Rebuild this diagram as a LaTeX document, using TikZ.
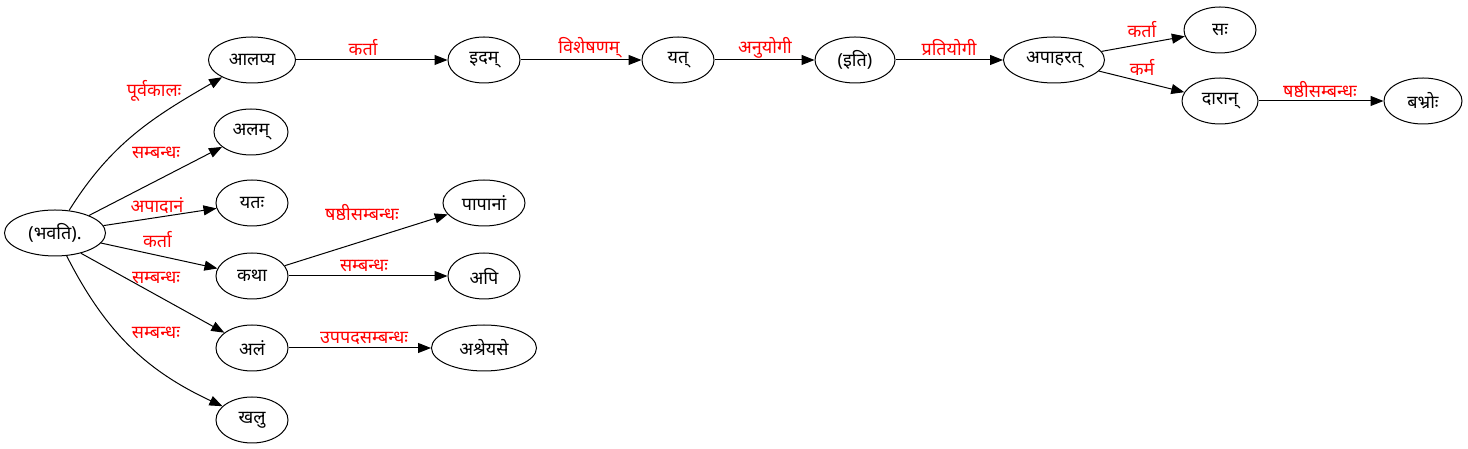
\documentclass[tikz,border=0pt]{standalone}
\usepackage{fontspec}
\setmainfont[Script=Devanagari]{Noto Sans}
\usetikzlibrary{arrows.meta,shapes.geometric}

\begin{document}
\begin{tikzpicture}[x=1pt, y=1pt,
		word/.style={draw, ellipse, line width=1pt, minimum width=72pt, minimum height=46pt, inner sep=1pt, font=\fontsize{18}{20}\selectfont},
		rel/.style={text=red, anchor=center, inner sep=0pt, font=\fontsize{18}{20}\selectfont},
		dep/.style={-{Triangle[length=13pt,width=10pt]}, line width=1pt}]
				\useasboundingbox (0, 0) rectangle (1468, 449);
				\node[word, minimum width=101pt] (node0) at (55, 216) {(भवति).};
				\node[word, minimum width=87pt] (node1) at (252, 389) {आलप्य};
				\node[word, minimum width=74pt] (node2) at (251, 317) {अलम्};
				\node[word] (node3) at (252, 246) {यतः};
				\node[word] (node4) at (252, 173) {कथा};
				\node[word] (node5) at (252, 101) {अलं};
				\node[word] (node6) at (252, 29) {खलु};
				\node[word, minimum width=82pt] (node7) at (484, 246) {पापानां};
				\node[word] (node8) at (484, 173) {अपि};
				\node[word, minimum width=105pt] (node9) at (484, 101) {अश्रेयसे};
				\node[word] (node10) at (484, 389) {इदम्};
				\node[word] (node11) at (678, 389) {यत्};
				\node[word, minimum width=80pt] (node12) at (855, 389) {(इति)};
				\node[word, minimum width=101pt] (node13) at (1054, 389) {अपाहरत्};
				\node[word] (node14) at (1220, 419) {सः};
				\node[word, minimum width=76pt] (node15) at (1220, 348) {दारान्};
				\node[word, minimum width=78pt] (node16) at (1423, 348) {बभ्रोः};

				\draw [dep] (node0) to[out=58, in=-150] node[rel, pos=0.75, xshift=-21pt, yshift=14pt] {पूर्वकालः} (node1);
				\draw [dep] (node0) to node[rel, pos=0.504, yshift=28pt] {सम्बन्धः} (node2);
				\draw [dep] (node0) to node[rel, pos=0.474, yshift=12pt] {अपादानं} (node3);
				\draw [dep] (node0) to node[rel, pos=0.485, yshift=16pt] {कर्ता} (node4);
				\draw [dep] (node0.-38) to node[rel, pos=0.524, yshift=17pt] {सम्बन्धः} (node5);
				\draw [dep] (node0) to[out=-63, in=155] node[rel, pos=0.45, xshift=33pt, yshift=6pt] {सम्बन्धः} (node6);
				\draw [dep] (node4) to node[rel, pos=0.474, yshift=29pt] {षष्ठीसम्बन्धः} (node7);
				\draw [dep] (node4) to node[rel, pos=0.475, yshift=10pt] {सम्बन्धः} (node8);
				\draw [dep] (node5) to node[rel, pos=0.53, yshift=10pt] {उपपदसम्बन्धः} (node9);
				\draw [dep] (node1) to node[rel, pos=0.443, yshift=12pt] {कर्ता} (node10);
				\draw [dep] (node10) to node[rel, pos=0.566, yshift=12pt] {विशेषणम्} (node11);
				\draw [dep] (node11) to node[rel, pos=0.505, yshift=12pt] {अनुयोगी} (node12);
				\draw [dep] (node12) to node[rel, pos=0.498, yshift=12pt] {प्रतियोगी} (node13);
				\draw [dep] (node13) to node[rel, pos=0.486, yshift=15pt] {कर्ता} (node14);
				\draw [dep] (node13) to node[rel, pos=0.505, yshift=14pt] {कर्म} (node15);
				\draw [dep] (node15) to node[rel, pos=0.492, yshift=11pt] {षष्ठीसम्बन्धः} (node16);
		\end{tikzpicture}
\end{document}
